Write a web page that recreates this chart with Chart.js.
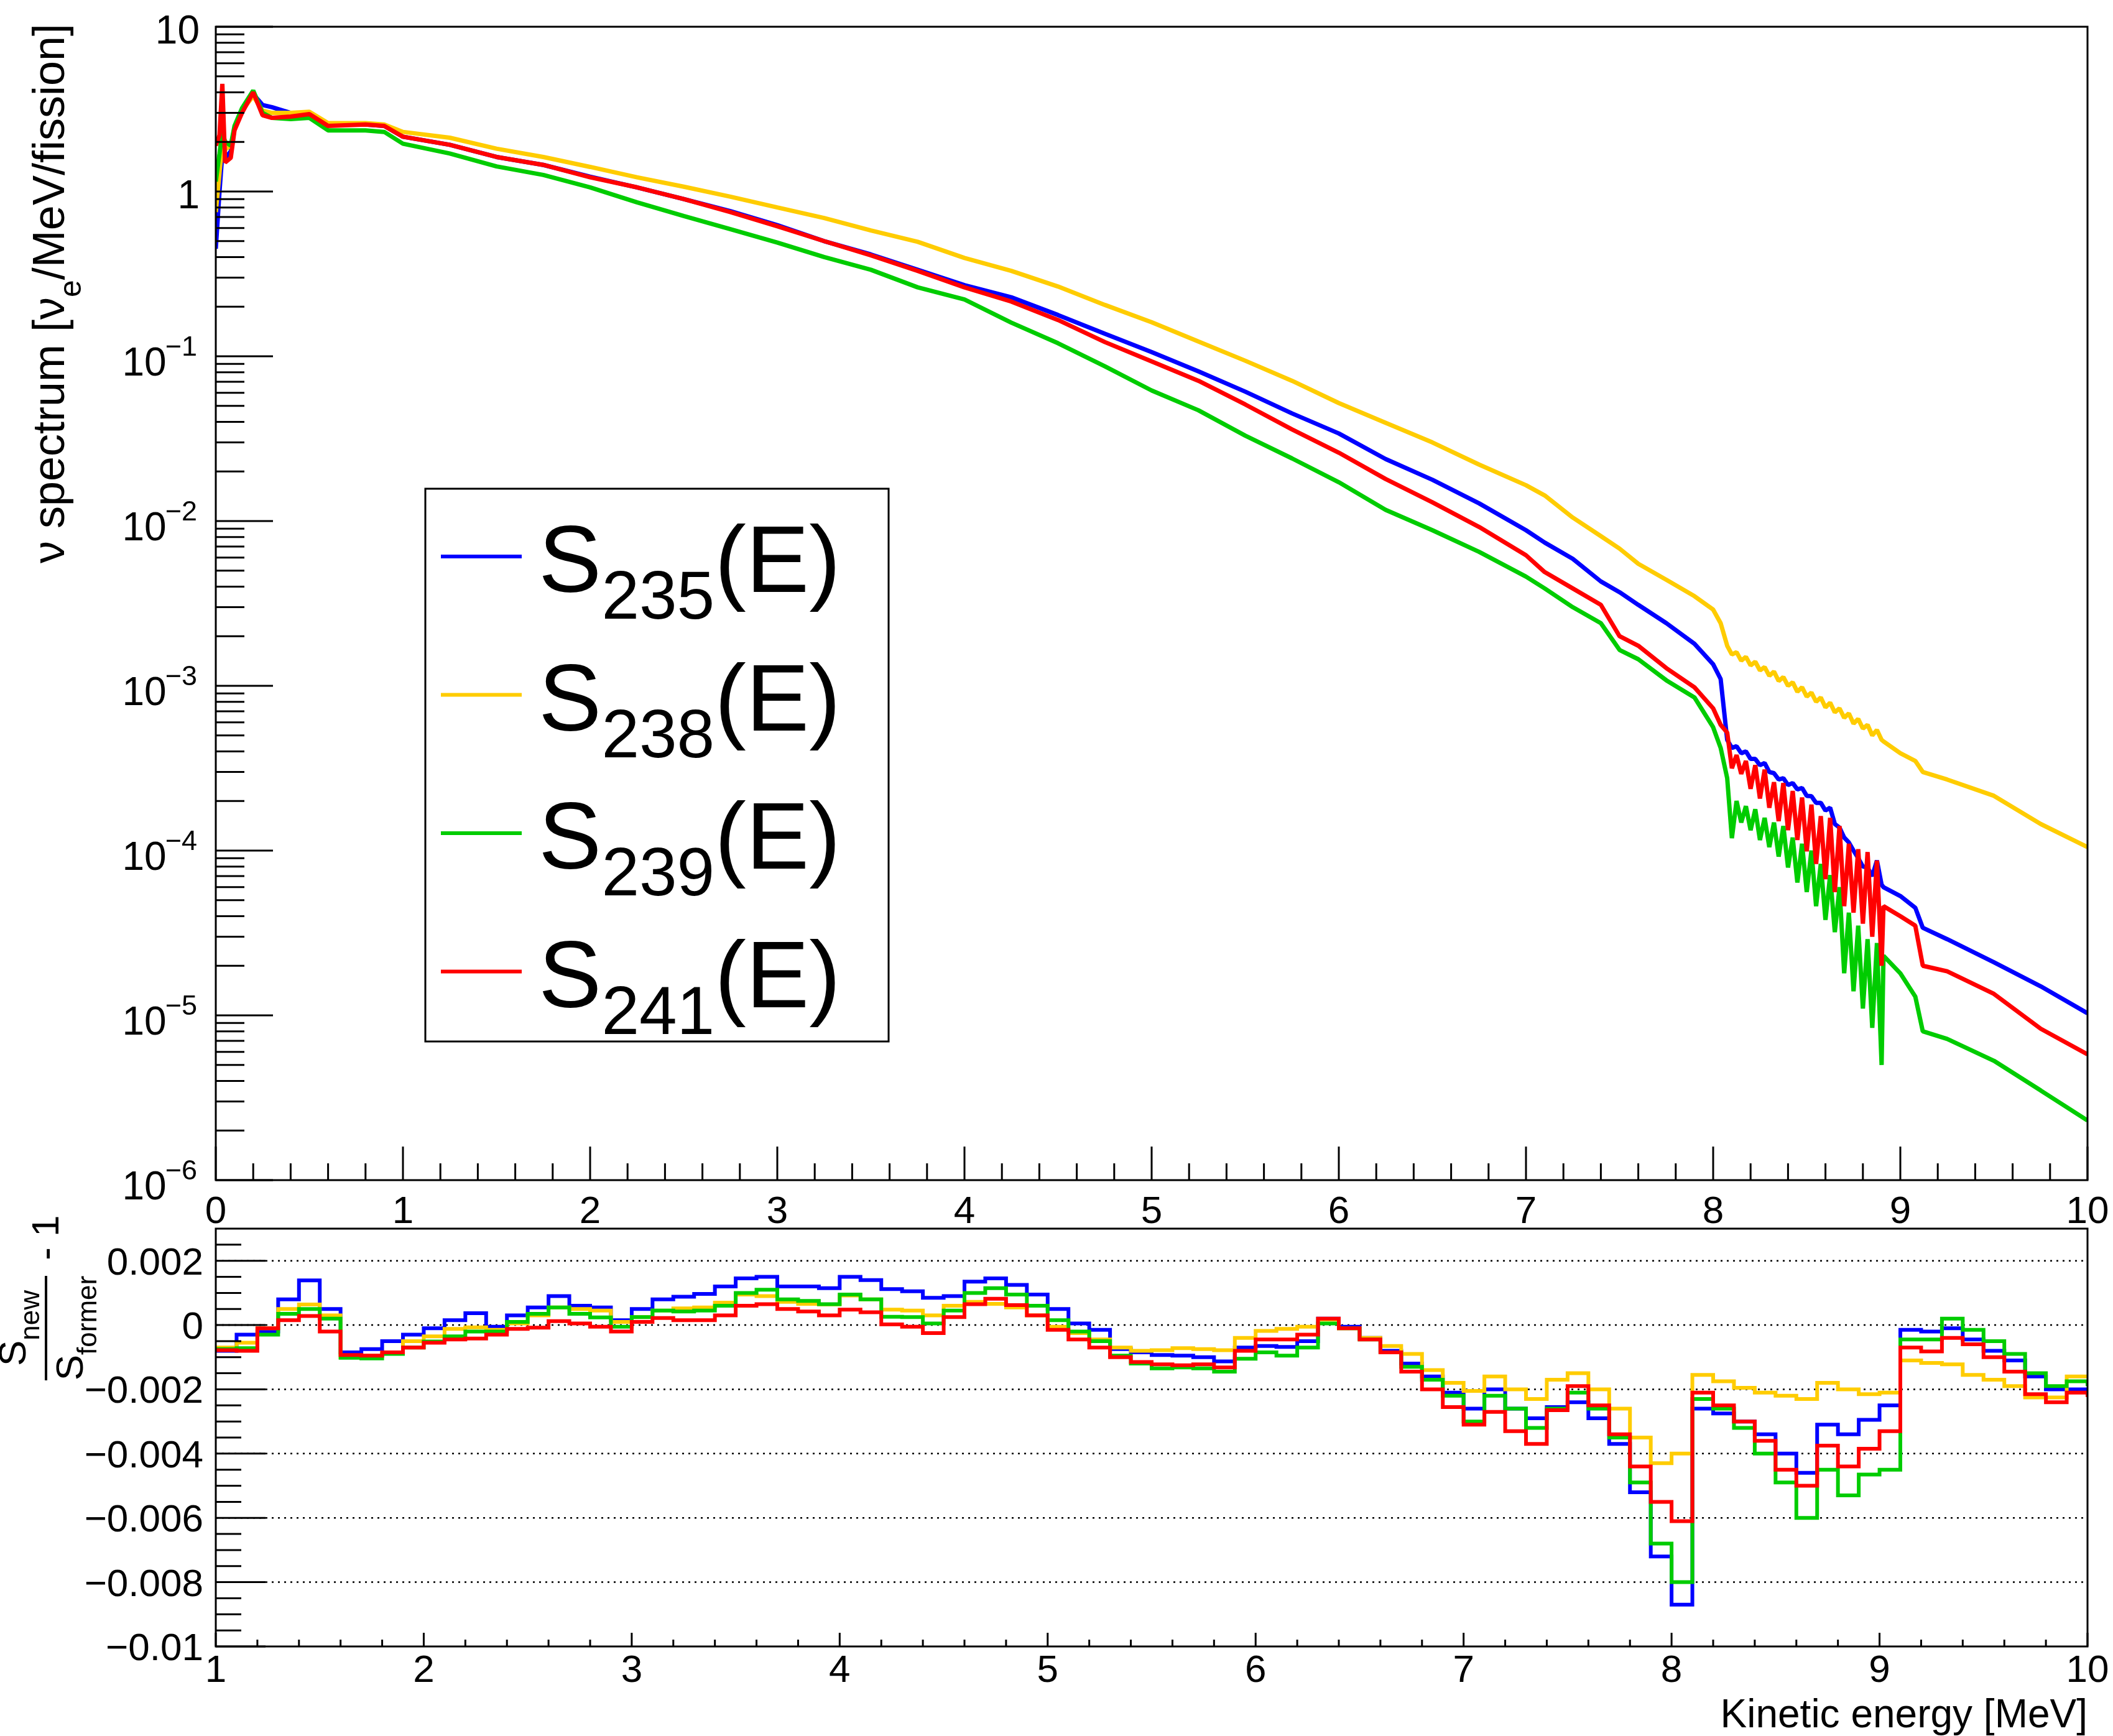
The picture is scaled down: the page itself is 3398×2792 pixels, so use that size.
<!DOCTYPE html>
<html>
<head>
<meta charset="utf-8">
<script src="https://cdn.jsdelivr.net/npm/chart.js@4.4.0/dist/chart.umd.min.js"></script>
<style>
html,body{margin:0;padding:0;background:#ffffff;}
#wrap{position:relative;width:3398px;height:2792px;background:#ffffff;overflow:hidden;}
#wrap canvas{position:absolute;left:0;top:0;}
</style>
</head>
<body>
<div id="wrap">
<canvas id="topChart" width="3398" height="2792"></canvas>
<canvas id="ratioChart" width="3398" height="2792"></canvas>
</div>
<script>
// ---------------- DATA ----------------
const seriesNames = ['235', '238', '239', '241'];
const seriesColors = ['#0000ff', '#ffcc00', '#00cc00', '#ff0000'];

// kinetic energy grid of the upper panel [MeV]
const energyTop = [
  0, 0.02, 0.035, 0.05, 0.08, 0.1, 0.14, 0.2, 0.25, 0.3,
  0.4, 0.5, 0.6, 0.8, 0.9, 1.0, 1.25, 1.5, 1.75, 2.0,
  2.25, 2.5, 2.75, 3.0, 3.25, 3.5, 3.75, 4.0, 4.25, 4.5,
  4.75, 5.0, 5.25, 5.5, 5.75, 6.0, 6.25, 6.5, 6.75, 7.0,
  7.1, 7.25, 7.4, 7.5, 7.6, 7.75, 7.9, 8.0, 8.04, 8.075,
  8.1, 8.125, 8.15, 8.175, 8.2, 8.225, 8.25, 8.275, 8.3, 8.325,
  8.35, 8.375, 8.4, 8.425, 8.45, 8.475, 8.5, 8.525, 8.55, 8.575,
  8.6, 8.625, 8.65, 8.675, 8.7, 8.725, 8.75, 8.775, 8.8, 8.825,
  8.85, 8.875, 8.9, 8.91, 9.0, 9.08, 9.12, 9.25, 9.5, 9.75,
  10.0
];

// nu spectrum [nu_e/MeV/fission]
const spectrum235 = [
  0.45, 1.0, 1.7, 1.6, 1.75, 2.4, 3.1, 3.9, 3.35, 3.25,
  3.0, 2.95, 2.55, 2.55, 2.5, 2.15, 1.92, 1.62, 1.45, 1.23,
  1.06, 0.9, 0.76, 0.625, 0.5, 0.415, 0.335, 0.27, 0.228, 0.178,
  0.137, 0.106, 0.081, 0.061, 0.045, 0.034, 0.0238, 0.0178, 0.0128, 0.0088,
  0.0074, 0.0059, 0.0043, 0.0037, 0.0031, 0.0024, 0.0018, 0.00135, 0.0011, 4.7e-4,
  4.2e-4, 4.3e-4, 3.9e-4, 4.0e-4, 3.6e-4, 3.6e-4, 3.3e-4, 3.4e-4, 3.0e-4, 2.95e-4,
  2.7e-4, 2.75e-4, 2.5e-4, 2.57e-4, 2.35e-4, 2.4e-4, 2.15e-4, 2.14e-4, 1.95e-4, 1.95e-4,
  1.75e-4, 1.82e-4, 1.45e-4, 1.38e-4, 1.2e-4, 1.12e-4, 1.0e-4, 9.0e-5, 8.0e-5, 7.9e-5,
  7.0e-5, 8.7e-5, 6.2e-5, 6.0e-5, 5.3e-5, 4.5e-5, 3.4e-5, 2.9e-5, 2.1e-5, 1.5e-5,
  1.03e-5
];
const spectrum238 = [
  0.75, 1.3, 2.0, 1.8, 1.9, 2.4, 3.1, 3.8, 3.1, 3.0,
  3.0, 3.05, 2.6, 2.6, 2.55, 2.3, 2.12, 1.82, 1.62, 1.41,
  1.22, 1.07, 0.93, 0.8, 0.69, 0.58, 0.495, 0.395, 0.33, 0.265,
  0.205, 0.161, 0.123, 0.094, 0.071, 0.052, 0.0395, 0.030, 0.022, 0.0165,
  0.0143, 0.0105, 0.0081, 0.0068, 0.0055, 0.0044, 0.0035, 0.0029, 0.0024, 1.75e-3,
  1.55e-3, 1.6e-3, 1.42e-3, 1.5e-3, 1.33e-3, 1.4e-3, 1.24e-3, 1.3e-3, 1.15e-3, 1.22e-3,
  1.07e-3, 1.13e-3, 1.0e-3, 1.05e-3, 9.2e-4, 9.8e-4, 8.6e-4, 9.1e-4, 8.0e-4, 8.5e-4,
  7.4e-4, 7.9e-4, 6.9e-4, 7.3e-4, 6.4e-4, 6.8e-4, 5.9e-4, 6.3e-4, 5.5e-4, 5.8e-4,
  5.0e-4, 5.4e-4, 4.7e-4, 4.6e-4, 3.9e-4, 3.5e-4, 3.0e-4, 2.7e-4, 2.15e-4, 1.45e-4,
  1.05e-4
];
const spectrum239 = [
  1.15, 1.7, 2.3, 2.0, 1.9, 2.5, 3.2, 4.1, 3.0, 2.8,
  2.75, 2.8, 2.35, 2.35, 2.3, 1.95, 1.7, 1.42, 1.26, 1.06,
  0.86, 0.71, 0.59, 0.49, 0.40, 0.335, 0.262, 0.221, 0.16, 0.12,
  0.087, 0.062, 0.047, 0.033, 0.024, 0.0172, 0.0117, 0.0088, 0.0065, 0.0046,
  0.0039, 0.003, 0.0024, 0.00165, 0.00145, 0.00108, 0.00085, 0.00056, 0.00042, 2.75e-4,
  1.19e-4, 2.0e-4, 1.48e-4, 1.86e-4, 1.33e-4, 1.78e-4, 1.16e-4, 1.58e-4, 1.05e-4, 1.48e-4,
  9.2e-5, 1.41e-4, 7.9e-5, 1.2e-4, 6.4e-5, 1.1e-4, 5.6e-5, 1.0e-4, 4.6e-5, 8.3e-5,
  3.8e-5, 7.1e-5, 3.2e-5, 6.0e-5, 1.8e-5, 4.2e-5, 1.4e-5, 3.5e-5, 1.1e-5, 2.9e-5,
  8.4e-6, 2.75e-5, 5.0e-6, 2.3e-5, 1.8e-5, 1.3e-5, 8.0e-6, 7.2e-6, 5.3e-6, 3.5e-6,
  2.3e-6
];
const spectrum241 = [
  1.9, 2.2, 4.5, 1.5, 1.6, 2.35, 3.0, 4.0, 2.9, 2.8,
  2.85, 2.95, 2.5, 2.55, 2.5, 2.15, 1.92, 1.62, 1.45, 1.22,
  1.06, 0.9, 0.75, 0.615, 0.5, 0.41, 0.33, 0.262, 0.215, 0.166,
  0.122, 0.093, 0.071, 0.051, 0.036, 0.026, 0.018, 0.013, 0.0092, 0.0062,
  0.0049, 0.0039, 0.0031, 0.0020, 0.00175, 0.00128, 0.00098, 0.00073, 0.00058, 5.2e-4,
  3.16e-4, 3.8e-4, 2.92e-4, 3.5e-4, 2.37e-4, 3.3e-4, 2.07e-4, 3.1e-4, 1.82e-4, 2.6e-4,
  1.51e-4, 2.57e-4, 1.33e-4, 2.3e-4, 1.16e-4, 2.1e-4, 9.9e-5, 1.9e-4, 8.3e-5, 1.62e-4,
  6.7e-5, 1.58e-4, 5.6e-5, 1.41e-4, 4.6e-5, 1.1e-4, 4.2e-5, 1.02e-4, 3.6e-5, 9.8e-5,
  3.0e-5, 8.7e-5, 2.0e-5, 4.6e-5, 4.0e-5, 3.5e-5, 2.0e-5, 1.85e-5, 1.35e-5, 8.3e-6,
  5.8e-6
];

// lower panel: bin low edges [MeV]
const ratioEnergy = [
  1.0, 1.1, 1.2, 1.3, 1.4, 1.5, 1.6, 1.7, 1.8, 1.9,
  2.0, 2.1, 2.2, 2.3, 2.4, 2.5, 2.6, 2.7, 2.8, 2.9,
  3.0, 3.1, 3.2, 3.3, 3.4, 3.5, 3.6, 3.7, 3.8, 3.9,
  4.0, 4.1, 4.2, 4.3, 4.4, 4.5, 4.6, 4.7, 4.8, 4.9,
  5.0, 5.1, 5.2, 5.3, 5.4, 5.5, 5.6, 5.7, 5.8, 5.9,
  6.0, 6.1, 6.2, 6.3, 6.4, 6.5, 6.6, 6.7, 6.8, 6.9,
  7.0, 7.1, 7.2, 7.3, 7.4, 7.5, 7.6, 7.7, 7.8, 7.9,
  8.0, 8.1, 8.2, 8.3, 8.4, 8.5, 8.6, 8.7, 8.8, 8.9,
  9.0, 9.1, 9.2, 9.3, 9.4, 9.5, 9.6, 9.7, 9.8, 9.9,
  10.0
];
// S_new / S_former - 1
const ratio235 = [
  -0.8e-3, -0.3e-3, -0.2e-3, 0.8e-3, 1.39e-3, 0.5e-3, -0.85e-3, -0.75e-3, -0.5e-3, -0.3e-3,
  -0.1e-3, 0.15e-3, 0.37e-3, -0.05e-3, 0.3e-3, 0.55e-3, 0.9e-3, 0.6e-3, 0.55e-3, 0.15e-3,
  0.5e-3, 0.8e-3, 0.88e-3, 0.97e-3, 1.2e-3, 1.45e-3, 1.5e-3, 1.2e-3, 1.2e-3, 1.15e-3,
  1.5e-3, 1.4e-3, 1.12e-3, 1.05e-3, 0.85e-3, 0.9e-3, 1.35e-3, 1.45e-3, 1.25e-3, 0.95e-3,
  0.5e-3, 0.05e-3, -0.15e-3, -0.75e-3, -0.85e-3, -0.93e-3, -0.95e-3, -1.0e-3, -1.13e-3, -0.7e-3,
  -0.65e-3, -0.68e-3, -0.5e-3, 0.2e-3, -0.05e-3, -0.4e-3, -0.8e-3, -1.2e-3, -1.6e-3, -2.1e-3,
  -2.6e-3, -2.0e-3, -2.6e-3, -2.9e-3, -2.55e-3, -2.4e-3, -2.9e-3, -3.7e-3, -5.2e-3, -7.2e-3,
  -8.7e-3, -2.6e-3, -2.75e-3, -3.0e-3, -3.4e-3, -4.0e-3, -4.6e-3, -3.1e-3, -3.4e-3, -2.95e-3,
  -2.5e-3, -0.15e-3, -0.2e-3, -0.1e-3, -0.45e-3, -0.8e-3, -1.1e-3, -1.6e-3, -2.0e-3, -2.0e-3,
  -2.05e-3
];
const ratio238 = [
  -0.7e-3, -0.55e-3, -0.1e-3, 0.5e-3, 0.64e-3, 0.3e-3, -1.0e-3, -0.95e-3, -0.85e-3, -0.5e-3,
  -0.35e-3, -0.12e-3, -0.07e-3, -0.15e-3, 0.05e-3, 0.3e-3, 0.55e-3, 0.5e-3, 0.45e-3, 0.1e-3,
  0.25e-3, 0.45e-3, 0.52e-3, 0.55e-3, 0.7e-3, 0.95e-3, 0.9e-3, 0.72e-3, 0.66e-3, 0.64e-3,
  0.92e-3, 0.8e-3, 0.48e-3, 0.45e-3, 0.3e-3, 0.6e-3, 0.72e-3, 0.66e-3, 0.55e-3, 0.3e-3,
  -0.05e-3, -0.25e-3, -0.45e-3, -0.7e-3, -0.8e-3, -0.78e-3, -0.72e-3, -0.75e-3, -0.78e-3, -0.4e-3,
  -0.18e-3, -0.12e-3, -0.05e-3, 0.17e-3, -0.1e-3, -0.4e-3, -0.65e-3, -0.9e-3, -1.4e-3, -1.8e-3,
  -2.05e-3, -1.6e-3, -2.0e-3, -2.3e-3, -1.7e-3, -1.5e-3, -2.0e-3, -2.6e-3, -3.5e-3, -4.3e-3,
  -4.0e-3, -1.55e-3, -1.75e-3, -1.95e-3, -2.1e-3, -2.2e-3, -2.3e-3, -1.8e-3, -2.0e-3, -2.15e-3,
  -2.1e-3, -1.1e-3, -1.18e-3, -1.22e-3, -1.55e-3, -1.7e-3, -1.9e-3, -2.25e-3, -2.25e-3, -1.6e-3,
  -1.55e-3
];
const ratio239 = [
  -0.75e-3, -0.72e-3, -0.3e-3, 0.35e-3, 0.5e-3, 0.2e-3, -1.02e-3, -1.04e-3, -0.9e-3, -0.7e-3,
  -0.51e-3, -0.35e-3, -0.2e-3, -0.2e-3, 0.1e-3, 0.35e-3, 0.55e-3, 0.35e-3, 0.24e-3, -0.05e-3,
  0.25e-3, 0.45e-3, 0.42e-3, 0.45e-3, 0.6e-3, 1.0e-3, 1.1e-3, 0.8e-3, 0.75e-3, 0.65e-3,
  0.95e-3, 0.8e-3, 0.26e-3, 0.25e-3, 0.05e-3, 0.45e-3, 1.0e-3, 1.15e-3, 0.95e-3, 0.6e-3,
  0.15e-3, -0.2e-3, -0.5e-3, -0.95e-3, -1.2e-3, -1.35e-3, -1.32e-3, -1.35e-3, -1.45e-3, -1.05e-3,
  -0.85e-3, -0.95e-3, -0.7e-3, 0.05e-3, -0.1e-3, -0.45e-3, -0.85e-3, -1.3e-3, -1.7e-3, -2.2e-3,
  -3.0e-3, -2.2e-3, -2.6e-3, -3.2e-3, -2.6e-3, -2.1e-3, -2.6e-3, -3.5e-3, -4.9e-3, -6.8e-3,
  -8.0e-3, -2.3e-3, -2.6e-3, -3.2e-3, -4.0e-3, -4.9e-3, -6.0e-3, -4.5e-3, -5.3e-3, -4.65e-3,
  -4.5e-3, -0.45e-3, -0.45e-3, 0.2e-3, -0.15e-3, -0.5e-3, -0.9e-3, -1.5e-3, -1.9e-3, -1.75e-3,
  -1.9e-3
];
const ratio241 = [
  -0.78e-3, -0.8e-3, -0.1e-3, 0.15e-3, 0.28e-3, -0.2e-3, -0.93e-3, -0.95e-3, -0.85e-3, -0.7e-3,
  -0.55e-3, -0.45e-3, -0.42e-3, -0.3e-3, -0.12e-3, -0.08e-3, 0.12e-3, 0.05e-3, -0.05e-3, -0.2e-3,
  0.1e-3, 0.22e-3, 0.15e-3, 0.15e-3, 0.3e-3, 0.6e-3, 0.65e-3, 0.5e-3, 0.42e-3, 0.3e-3,
  0.48e-3, 0.4e-3, 0.02e-3, -0.05e-3, -0.25e-3, 0.25e-3, 0.65e-3, 0.82e-3, 0.62e-3, 0.3e-3,
  -0.15e-3, -0.45e-3, -0.7e-3, -1.0e-3, -1.15e-3, -1.22e-3, -1.25e-3, -1.22e-3, -1.32e-3, -0.8e-3,
  -0.45e-3, -0.45e-3, -0.3e-3, 0.2e-3, -0.1e-3, -0.45e-3, -0.85e-3, -1.45e-3, -2.0e-3, -2.55e-3,
  -3.1e-3, -2.7e-3, -3.3e-3, -3.7e-3, -2.65e-3, -1.9e-3, -2.5e-3, -3.4e-3, -4.4e-3, -5.5e-3,
  -6.1e-3, -2.1e-3, -2.5e-3, -3.0e-3, -3.6e-3, -4.5e-3, -5.0e-3, -3.75e-3, -4.4e-3, -3.85e-3,
  -3.3e-3, -0.7e-3, -0.82e-3, -0.4e-3, -0.6e-3, -1.0e-3, -1.45e-3, -2.15e-3, -2.4e-3, -2.1e-3,
  -2.24e-3
];

// tick labels
const topXTickValues = [0, 1, 2, 3, 4, 5, 6, 7, 8, 9, 10];
const topXTickLabels = ['0', '1', '2', '3', '4', '5', '6', '7', '8', '9', '10'];
const topYTickExponents = [1, 0, -1, -2, -3, -4, -5, -6];
const ratioXTickValues = [1, 2, 3, 4, 5, 6, 7, 8, 9, 10];
const ratioXTickLabels = ['1', '2', '3', '4', '5', '6', '7', '8', '9', '10'];
const ratioYTickValues = [0.002, 0, -0.002, -0.004, -0.006, -0.008, -0.01];
const ratioYTickLabels = ['0.002', '0', '\u22120.002', '\u22120.004', '\u22120.006', '\u22120.008', '\u22120.01'];
const ratioGridValues = [0.002, 0, -0.002, -0.004, -0.006, -0.008];

// ---------------- STYLE / HELPERS ----------------
const FONT = '"Liberation Sans", Arial, Helvetica, sans-serif';
const drawOrder = [4, 3, 2, 1];
const topSeries = [spectrum235, spectrum238, spectrum239, spectrum241];
const ratioSeries = [ratio235, ratio238, ratio239, ratio241];

function seg(ctx, x1, y1, x2, y2) {
  ctx.beginPath(); ctx.moveTo(x1, y1); ctx.lineTo(x2, y2); ctx.stroke();
}

const topAxesPlugin = {
  id: 'topAxes',
  afterDatasetsDraw(chart) {
    const ctx = chart.ctx, a = chart.chartArea, xs = chart.scales.x, ys = chart.scales.y;
    ctx.save();
    ctx.strokeStyle = '#000'; ctx.fillStyle = '#000'; ctx.lineWidth = 3; ctx.lineCap = 'butt';
    ctx.strokeRect(a.left, a.top, a.right - a.left, a.bottom - a.top);
    for (let k = 0; k <= 50; k++) {
      const px = xs.getPixelForValue(k * 0.2);
      const len = (k % 5 === 0) ? 54 : 27;
      seg(ctx, px, a.bottom, px, a.bottom - len);
    }
    for (let d = -6; d <= 1; d++) {
      for (let m = 1; m <= 9; m++) {
        const v = m * Math.pow(10, d);
        if (v > 10.0001) break;
        const py = ys.getPixelForValue(v);
        seg(ctx, a.left, py, a.left + (m === 1 ? 92 : 46), py);
      }
    }
    ctx.font = '62px ' + FONT; ctx.textAlign = 'center'; ctx.textBaseline = 'alphabetic';
    topXTickValues.forEach((v, i) => ctx.fillText(topXTickLabels[i], xs.getPixelForValue(v), a.bottom + 69));
    topYTickExponents.forEach(e => {
      const py = ys.getPixelForValue(Math.pow(10, e));
      ctx.textAlign = 'right';
      if (e === 0 || e === 1) {
        ctx.font = '64px ' + FONT;
        ctx.fillText(e === 0 ? '1' : '10', a.left - 26, py + 27);
      } else {
        const sup = '\u2212' + String(-e);
        ctx.font = '45px ' + FONT;
        const sw = ctx.measureText(sup).width;
        ctx.fillText(sup, a.left - 30, py - 1);
        ctx.font = '64px ' + FONT;
        ctx.fillText('10', a.left - 30 - sw + 2, py + 31);
      }
    });
    ctx.translate(103, 38);
    ctx.rotate(-Math.PI / 2);
    ctx.textAlign = 'left';
    const p1 = '\u03bd spectrum [\u03bd', p2 = 'e', p3 = '/MeV/fission]';
    ctx.font = '72px ' + FONT; const w1 = ctx.measureText(p1).width, w3 = ctx.measureText(p3).width;
    ctx.font = '50px ' + FONT; const w2 = ctx.measureText(p2).width;
    let x = -(w1 + w2 + w3);
    ctx.font = '72px ' + FONT; ctx.fillText(p1, x, 0); x += w1;
    ctx.font = '50px ' + FONT; ctx.fillText(p2, x, 27); x += w2;
    ctx.font = '72px ' + FONT; ctx.fillText(p3, x, 0);
    ctx.restore();
  }
};

const legendPlugin = {
  id: 'rootLegend',
  afterDraw(chart) {
    const ctx = chart.ctx;
    ctx.save();
    const L = 684, T = 786, R = 1429, B = 1675;
    ctx.fillStyle = '#fff'; ctx.fillRect(L, T, R - L, B - T);
    ctx.strokeStyle = '#000'; ctx.lineWidth = 3; ctx.strokeRect(L, T, R - L, B - T);
    seriesNames.forEach((name, i) => {
      const ry = 895 + i * 222.5;
      ctx.strokeStyle = seriesColors[i]; ctx.lineWidth = 6;
      seg(ctx, 709, ry, 839, ry);
      ctx.fillStyle = '#000'; ctx.textAlign = 'left'; ctx.textBaseline = 'alphabetic';
      const bl = ry + 57;
      let x = 866;
      ctx.font = '152px ' + FONT; ctx.fillText('S', x, bl); x += ctx.measureText('S').width;
      ctx.font = '109px ' + FONT; ctx.fillText(name, x, bl + 43); x += ctx.measureText(name).width;
      ctx.font = '152px ' + FONT; ctx.fillText('(E)', x, bl);
    });
    ctx.restore();
  }
};

const ratioAxesPlugin = {
  id: 'ratioAxes',
  beforeDatasetsDraw(chart) {
    const ctx = chart.ctx, a = chart.chartArea, ys = chart.scales.y;
    ctx.save();
    ctx.strokeStyle = '#000'; ctx.lineWidth = 2.5; ctx.setLineDash([3, 7]);
    ratioGridValues.forEach(v => { const py = ys.getPixelForValue(v); seg(ctx, a.left, py, a.right, py); });
    ctx.restore();
  },
  afterDatasetsDraw(chart) {
    const ctx = chart.ctx, a = chart.chartArea, xs = chart.scales.x, ys = chart.scales.y;
    ctx.save();
    ctx.strokeStyle = '#000'; ctx.fillStyle = '#000'; ctx.lineWidth = 3; ctx.lineCap = 'butt';
    ctx.strokeRect(a.left, a.top, a.right - a.left, a.bottom - a.top);
    for (let k = 0; k <= 45; k++) {
      const px = xs.getPixelForValue(1 + k * 0.2);
      seg(ctx, px, a.bottom, px, a.bottom - ((k % 5 === 0) ? 22 : 11));
    }
    for (let k = 0; k <= 25; k++) {
      const py = ys.getPixelForValue(-0.01 + k * 0.0005);
      seg(ctx, a.left, py, a.left + ((k % 4 === 0) ? 80 : 41), py);
    }
    ctx.font = '62px ' + FONT; ctx.textBaseline = 'alphabetic';
    ctx.textAlign = 'center';
    ratioXTickValues.forEach((v, i) => ctx.fillText(ratioXTickLabels[i], xs.getPixelForValue(v), a.bottom + 57));
    ctx.textAlign = 'right';
    ratioYTickValues.forEach((v, i) => ctx.fillText(ratioYTickLabels[i], a.left - 20, ys.getPixelForValue(v) + 22));
    ctx.font = '64px ' + FONT; ctx.textAlign = 'right';
    ctx.fillText('Kinetic energy [MeV]', a.right, 2778);
    ctx.translate(74, 2136);
    ctx.rotate(-Math.PI / 2);
    ctx.textAlign = 'left';
    ctx.lineWidth = 4;
    seg(ctx, -84, 0, 84, 0);
    function sFrac(sub, baseY, subDy) {
      ctx.font = '62px ' + FONT; const ws = ctx.measureText('S').width;
      ctx.font = '44px ' + FONT; const wsub = ctx.measureText(sub).width;
      let x = -(ws + wsub) / 2;
      ctx.font = '62px ' + FONT; ctx.fillText('S', x, baseY);
      ctx.font = '44px ' + FONT; ctx.fillText(sub, x + ws, baseY + subDy);
    }
    sFrac('new', -33, 22);
    sFrac('former', 59, 22);
    ctx.font = '62px ' + FONT;
    ctx.fillText(' - 1', 92, 20);
    ctx.restore();
  }
};

// ---------------- CHARTS ----------------
new Chart(document.getElementById('topChart'), {
  type: 'line',
  data: {
    datasets: seriesNames.map((n, i) => ({
      label: 'S' + n + '(E)',
      data: energyTop.map((e, j) => ({ x: e, y: topSeries[i][j] })),
      borderColor: seriesColors[i],
      borderWidth: 7,
      borderJoinStyle: 'bevel',
      pointRadius: 0,
      tension: 0,
      fill: false,
      order: drawOrder[i]
    }))
  },
  options: {
    responsive: false, animation: false, events: [],
    layout: { padding: { left: 347, right: 41, top: 43, bottom: 894 } },
    plugins: { legend: { display: false }, tooltip: { enabled: false }, title: { display: false } },
    scales: {
      x: { type: 'linear', min: 0, max: 10, bounds: 'data', display: false },
      y: { type: 'logarithmic', min: 1e-6, max: 10, bounds: 'data', display: false }
    }
  },
  plugins: [topAxesPlugin, legendPlugin]
});

new Chart(document.getElementById('ratioChart'), {
  type: 'line',
  data: {
    datasets: seriesNames.map((n, i) => ({
      label: 'S' + n,
      data: ratioEnergy.map((e, j) => ({ x: e, y: ratioSeries[i][j] })),
      borderColor: seriesColors[i],
      borderWidth: 6,
      stepped: 'before',
      pointRadius: 0,
      fill: false,
      order: drawOrder[i]
    }))
  },
  options: {
    responsive: false, animation: false, events: [],
    layout: { padding: { left: 347, right: 41, top: 1976, bottom: 144 } },
    plugins: { legend: { display: false }, tooltip: { enabled: false }, title: { display: false } },
    scales: {
      x: { type: 'linear', min: 1, max: 10, bounds: 'data', display: false },
      y: { type: 'linear', min: -0.01, max: 0.003, bounds: 'data', display: false }
    }
  },
  plugins: [ratioAxesPlugin]
});
</script>
</body>
</html>
